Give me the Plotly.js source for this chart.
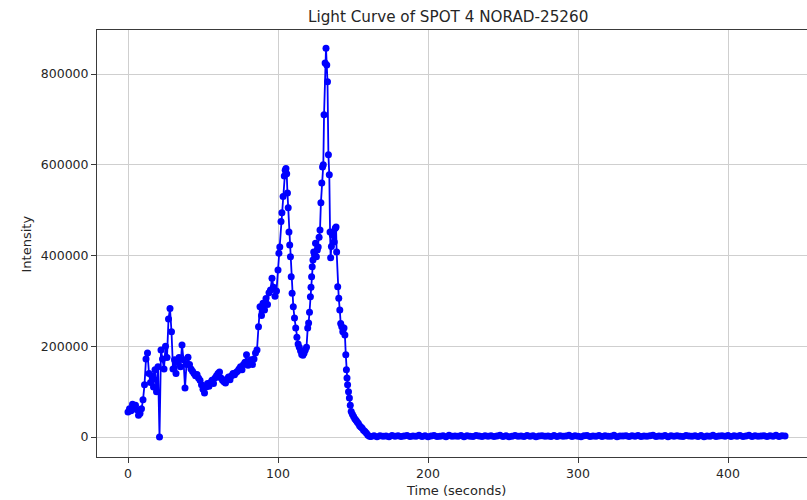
<!DOCTYPE html>
<html>
<head>
<meta charset="utf-8">
<script src="https://cdn.plot.ly/plotly-3.0.1.min.js"></script>
<style>html,body{margin:0;padding:0;background:#fff;}#chart{width:807px;height:500px;}</style>
</head>
<body>
<div id="chart"></div>
<script>
// Time (seconds)
var timeSec = [
 0,1,2,3,4,5,6,7,8,9,10,11,12,13,14,15,16,17,18,19,20,21,22,23,24,25,26,27,28,29,
 30,31,32,33,34,35,36,37,38,39,40,41,42,43,44,45,46,47,48,49,50,51,52,53,54,55,56,57,58,59,
 60,61,62,63,64,65,66,67,68,69,70,71,72,73,74,75,76,77,78,79,80,81,82,83,84,85,86,87,88,89,
 90,91,92,93,94,95,96,97,98,99,100,100.6,101.2,102,102.6,103.4,104.2,104.8,105.3,105.8,
 106.3,106.8,107.3,107.8,108.3,108.8,109.4,110.2,111,111.8,112.6,113.4,114.2,115,115.8,
 116.6,117.4,118.2,119,119.8,120.4,121,121.6,122,122.4,122.8,123.3,123.8,124.4,125,125.6,
 126.2,126.8,127.4,128,128.6,129.2,129.7,130.2,130.7,131.4,132,132.5,133,133.6,134.2,134.7,
 135.1,135.6,136.2,136.8,137.5,138.2,138.7,139.1,139.8,140.5,141.2,141.8,142.5,143.2,144,
 144.6,145.2,145.6,146,146.4,147,147.6,148.2,148.8,149.6,150.4,151.2,152,152.8,153.6,154.4,
 155.2,156,157,158,159,160,161,
 162,164,166,168,170,172,174,176,178,180,182,184,186,188,190,192,194,196,198,200,
 202,204,206,208,210,212,214,216,218,220,222,224,226,228,230,232,234,236,238,240,
 242,244,246,248,250,252,254,256,258,260,262,264,266,268,270,272,274,276,278,280,
 282,284,286,288,290,292,294,296,298,300,302,304,306,308,310,312,314,316,318,320,
 322,324,326,328,330,332,334,336,338,340,342,344,346,348,350,352,354,356,358,360,
 362,364,366,368,370,372,374,376,378,380,382,384,386,388,390,392,394,396,398,400,
 402,404,406,408,410,412,414,416,418,420,422,424,426,428,430,432,434,436,438
];
// Intensity
var intensity = [
 55000,62000,58000,72000,65000,70000,60000,48000,52000,62000,82000,115000,172000,185000,140000,
 120000,135000,110000,148000,100000,155000,0,192000,172000,150000,200000,175000,260000,283000,232000,
 150000,170000,140000,165000,175000,155000,203000,170000,108000,160000,176000,160000,150000,145000,140000,
 135000,138000,130000,125000,115000,105000,97000,110000,118000,112000,120000,125000,118000,130000,135000,
 140000,143000,130000,125000,122000,119000,128000,132000,126000,135000,140000,137000,142000,145000,150000,
 155000,148000,160000,165000,181000,158000,163000,170000,160000,172000,185000,192000,243000,287000,268000,
 295000,280000,305000,292000,318000,324000,350000,330000,310000,322000,368000,405000,419000,475000,494000,
 530000,575000,588000,592000,580000,
 538000,505000,452000,423000,397000,353000,317000,287000,262000,240000,220000,205000,198000,190000,182000,
 180000,185000,192000,198000,240000,251000,275000,309000,330000,353000,375000,390000,408000,400000,427000,397000,
 412000,419000,440000,456000,516000,560000,595000,600000,710000,824000,857000,820000,783000,622000,578000,452000,
 395000,420000,445000,452000,430000,460000,463000,408000,331000,306000,280000,250000,243000,232000,240000,
 225000,181000,148000,130000,115000,100000,86000,70000,56000,50000,45000,40000,37000,33000,30000,25000,
 22000,20000,15000,12000,8000,4000,1500,
 1200,2500,800,3000,1800,2200,600,3500,1500,2800,1000,2000,3200,900,2400,1700,3800,1300,2600,700,
 2100,3300,1100,1900,2900,800,3600,1400,2300,1600,3100,700,2700,1800,1200,3400,2000,900,2500,1500,
 3000,1100,2200,3700,1300,2600,800,1900,3200,1600,2400,1000,3500,1400,2800,700,2100,3000,1700,2300,
 1200,3300,900,2600,1500,2000,3800,1100,2900,1800,600,2500,3400,1300,2200,1600,3100,1000,2700,1900,
 1400,3600,800,2400,2000,3000,1200,2600,1700,3300,900,2100,1500,2800,3900,1100,2300,1800,3200,700,
 2500,1400,3000,1900,1000,3500,2200,1600,2700,1300,3100,800,2400,1700,3700,1200,2000,2900,1500,3400,
 1000,2600,1800,3200,1300,2300,3800,900,2800,1600,2100,3000,1200,2500,1900,3600,1100,2700,2000
];
var xTicks = [0, 100, 200, 300, 400];
var yTicks = [0, 200000, 400000, 600000, 800000];

var trace = {
  x: timeSec, y: intensity, type: 'scatter', mode: 'lines+markers',
  line: {color: '#0000ff', width: 1.8},
  marker: {color: '#0000ff', size: 7, line: {width: 0}},
  hoverinfo: 'x+y'
};

var fontFam = 'DejaVu Sans, Liberation Sans, sans-serif';
var layout = {
  width: 807, height: 500,
  margin: {l: 97, r: 0, t: 30, b: 43, pad: 0},
  paper_bgcolor: '#ffffff', plot_bgcolor: '#ffffff',
  showlegend: false,
  font: {family: fontFam, size: 12.5, color: '#262626'},
  xaxis: {
    range: [-20.67, 452.67], tickvals: xTicks, ticktext: xTicks.map(String),
    showgrid: true, gridcolor: '#cfcfcf', gridwidth: 1, zeroline: false,
    showline: true, mirror: true, linecolor: '#3a3a3a', linewidth: 1,
    ticks: 'outside', ticklen: 5, tickwidth: 1, tickcolor: '#3a3a3a',
    tickfont: {family: fontFam, size: 12.5, color: '#262626'}
  },
  yaxis: {
    range: [-44080, 897000], tickvals: yTicks, ticktext: yTicks.map(String),
    showgrid: true, gridcolor: '#cfcfcf', gridwidth: 1, zeroline: false,
    showline: true, mirror: false, linecolor: '#3a3a3a', linewidth: 1,
    ticks: 'outside', ticklen: 5, tickwidth: 1, tickcolor: '#3a3a3a',
    tickfont: {family: fontFam, size: 12.5, color: '#262626'}
  },
  annotations: [
    {text: 'Light Curve of SPOT 4 NORAD-25260', xref: 'paper', yref: 'paper',
     x: 0.4944, y: 1.03, xanchor: 'center', yanchor: 'middle', showarrow: false,
     font: {family: fontFam, size: 15.2, color: '#262626'}},
    {text: 'Time (seconds)', xref: 'paper', yref: 'paper',
     x: 0.505, y: -0.0773, xanchor: 'center', yanchor: 'middle', showarrow: false,
     font: {family: fontFam, size: 13, color: '#262626'}},
    {text: 'Intensity', xref: 'paper', yref: 'paper', textangle: -90,
     x: -0.0986, y: 0.5, xanchor: 'center', yanchor: 'middle', showarrow: false,
     font: {family: fontFam, size: 13, color: '#262626'}}
  ]
};

Plotly.newPlot('chart', [trace], layout, {displayModeBar: false, staticPlot: true});
</script>
</body>
</html>
